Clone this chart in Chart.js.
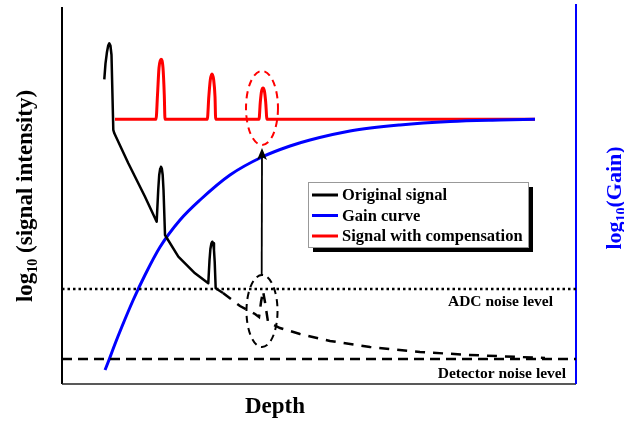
<!DOCTYPE html>
<html><head><meta charset="utf-8">
<script src="https://cdn.jsdelivr.net/npm/chart.js@4/dist/chart.umd.min.js"></script>
<style>html,body{margin:0;padding:0;background:#fff;}canvas{display:block;}</style>
</head><body>
<canvas id="c" width="624" height="424"></canvas>
<script>
// ---- data (depth 0..10, log intensity 0..10, arbitrary units) ----
const originalDepth = [0.823,0.846,0.875,0.899,0.920,0.942,0.963,0.998,1.018,1.290,1.615,1.842,1.872,1.891,1.911,1.926,1.942,1.959,1.975,2.004,2.263,2.588,2.846,2.870,2.887,2.907,2.924,2.942,2.957,2.971,2.990,3.132];
const originalValue = [8.061,8.474,8.783,8.955,9.013,8.955,8.704,6.720,6.632,5.839,4.955,4.294,5.132,5.529,5.701,5.749,5.701,5.529,5.132,3.942,3.368,2.929,2.664,3.280,3.571,3.722,3.765,3.722,3.545,3.228,2.532,2.407];
const hiddenDepth = [3.132,3.463,3.755,3.833,3.872,3.911,3.949,4.008,4.241,4.630,5.214,5.992,6.965,7.938,8.911,9.397];
const hiddenValue = [2.407,2.063,1.852,1.772,2.169,2.460,2.169,1.640,1.481,1.323,1.138,0.979,0.847,0.767,0.714,0.688];
const compDepth = [1.031,1.829,1.858,1.887,1.926,1.965,1.990,2.004,2.827,2.856,2.885,2.918,2.951,2.977,2.990,3.833,3.858,3.883,3.911,3.938,3.963,3.988,9.202];
const compValue = [7.003,7.003,7.646,8.360,8.590,8.360,7.646,7.003,7.003,7.593,8.042,8.201,8.042,7.593,7.003,7.003,7.460,7.751,7.831,7.751,7.460,7.003,7.003];
const gainDepth = [0.837,0.914,1.031,1.167,1.381,1.615,1.907,2.296,2.685,3.268,3.891,4.436,4.825,5.603,6.576,7.549,8.521,9.202];
const gainValue = [0.370,0.635,1.058,1.521,2.209,2.884,3.624,4.339,4.868,5.529,6.005,6.296,6.455,6.693,6.852,6.944,6.984,7.003];
const adcLevel = 2.513;
const detectorLevel = 0.661;
const levelDepth = [0, 10];
const seriesLabels = ['Original signal', 'Gain curve', 'Signal with compensation'];
const levelLabels = ['ADC noise level', 'Detector noise level'];
// annotations: [centerDepth, centerValue, radiusDepth, radiusValue]
const ellipseBlack = [3.891, 1.931, 0.302, 0.952];
const ellipseRed = [3.891, 7.302, 0.311, 0.979];
const arrowFrom = [3.885, 2.885];
const arrowTo = [3.891, 6.243];

const pts = (xs, ys) => xs.map((x, i) => ({x, y: ys[i]}));
const SERIF = '"Liberation Serif", "Times New Roman", serif';

const overlay = {
  id: 'overlay',
  beforeDatasetsDraw(chart) {
    const {ctx, chartArea: a} = chart;
    ctx.save();
    ctx.strokeStyle = '#000'; ctx.lineWidth = 2;
    ctx.beginPath(); ctx.moveTo(a.left, a.top + 1); ctx.lineTo(a.left, a.bottom); ctx.stroke();
    ctx.strokeStyle = '#222'; ctx.lineWidth = 1.6;
    ctx.beginPath(); ctx.moveTo(a.left, a.bottom); ctx.lineTo(a.right, a.bottom); ctx.stroke();
    ctx.strokeStyle = '#0000ff'; ctx.lineWidth = 2;
    ctx.beginPath(); ctx.moveTo(a.right, a.top - 2); ctx.lineTo(a.right, a.bottom); ctx.stroke();
    ctx.restore();
  },
  afterDatasetsDraw(chart) {
    const {ctx, chartArea: a, scales: {x, y}} = chart;
    ctx.save();
    const drawEll = (e, color) => {
      const cx = x.getPixelForValue(e[0]), cy = y.getPixelForValue(e[1]);
      const rx = x.getPixelForValue(e[0] + e[2]) - cx, ry = cy - y.getPixelForValue(e[1] + e[3]);
      ctx.strokeStyle = color; ctx.lineWidth = 2; ctx.setLineDash([7, 5]);
      ctx.beginPath(); ctx.ellipse(cx, cy, rx, ry, 0, 0, Math.PI * 2); ctx.stroke();
    };
    drawEll(ellipseBlack, '#000');
    drawEll(ellipseRed, '#ff0000');
    ctx.setLineDash([]);
    const x0 = x.getPixelForValue(arrowFrom[0]), y0 = y.getPixelForValue(arrowFrom[1]);
    const x1 = x.getPixelForValue(arrowTo[0]), y1 = y.getPixelForValue(arrowTo[1]);
    ctx.strokeStyle = '#000'; ctx.fillStyle = '#000'; ctx.lineWidth = 1.8;
    ctx.beginPath(); ctx.moveTo(x0, y0); ctx.lineTo(x1, y1 + 8); ctx.stroke();
    ctx.beginPath(); ctx.moveTo(x1, y1); ctx.lineTo(x1 - 5, y1 + 12); ctx.lineTo(x1, y1 + 9); ctx.lineTo(x1 + 5, y1 + 12); ctx.closePath(); ctx.fill();
    ctx.fillStyle = '#000'; ctx.font = 'bold 15.5px ' + SERIF; ctx.textAlign = 'right'; ctx.textBaseline = 'alphabetic';
    ctx.fillText(levelLabels[0], a.right - 23, y.getPixelForValue(adcLevel) + 17);
    ctx.fillText(levelLabels[1], a.right - 10, y.getPixelForValue(detectorLevel) + 19);
    const lx = 308, ly = 182, lw = 220, lh = 65;
    ctx.fillStyle = '#000'; ctx.fillRect(lx + 5, ly + 5, lw, lh);
    ctx.fillStyle = '#fff'; ctx.fillRect(lx, ly, lw, lh);
    ctx.strokeStyle = '#999'; ctx.lineWidth = 1; ctx.strokeRect(lx + 0.5, ly + 0.5, lw, lh);
    const items = chart.data.datasets.filter(d => seriesLabels.includes(d.label));
    ctx.font = 'bold 16.5px ' + SERIF; ctx.textAlign = 'left'; ctx.textBaseline = 'middle';
    items.forEach((d, i) => {
      const ry = ly + 13 + i * 20.5;
      ctx.strokeStyle = d.borderColor; ctx.lineWidth = 3;
      ctx.beginPath(); ctx.moveTo(lx + 4, ry); ctx.lineTo(lx + 30, ry); ctx.stroke();
      ctx.fillStyle = '#000'; ctx.fillText(d.label, lx + 34, ry + 1);
    });
    const drawLog = (cx, cy, rest, color, size) => {
      ctx.save(); ctx.translate(cx, cy); ctx.rotate(-Math.PI / 2);
      ctx.fillStyle = color; ctx.textBaseline = 'alphabetic'; ctx.textAlign = 'left';
      const big = 'bold ' + size + 'px ' + SERIF, small = 'bold ' + Math.round(size * 0.62) + 'px ' + SERIF;
      ctx.font = big; const w1 = ctx.measureText('log').width;
      ctx.font = small; const w2 = ctx.measureText('10').width;
      ctx.font = big; const w3 = ctx.measureText(rest).width;
      let sx = -(w1 + w2 + w3) / 2;
      const base = size * 0.35;
      ctx.font = big; ctx.fillText('log', sx, base); sx += w1;
      ctx.font = small; ctx.fillText('10', sx, base + size * 0.22); sx += w2;
      ctx.font = big; ctx.fillText(rest, sx, base);
      ctx.restore();
    };
    drawLog(24, 196, ' (signal intensity)', '#000', 23);
    drawLog(613, 198, '(Gain)', '#0000ff', 22);
    ctx.fillStyle = '#000'; ctx.font = 'bold 23px ' + SERIF; ctx.textAlign = 'center'; ctx.textBaseline = 'middle';
    ctx.fillText('Depth', 275, 407);
    ctx.restore();
  }
};

new Chart(document.getElementById('c'), {
  type: 'scatter',
  data: {
    datasets: [
      {label: 'ADC', data: pts(levelDepth, [adcLevel, adcLevel]), borderColor: '#000', borderWidth: 2.5, borderDash: [2.5, 3], showLine: true, pointRadius: 0},
      {label: 'Detector', data: pts(levelDepth, [detectorLevel, detectorLevel]), borderColor: '#000', borderWidth: 2.5, borderDash: [10, 6], showLine: true, pointRadius: 0},
      {label: 'hidden', data: pts(hiddenDepth, hiddenValue), borderColor: '#000', borderWidth: 2.5, borderDash: [10, 8], showLine: true, pointRadius: 0},
      {label: seriesLabels[0], data: pts(originalDepth, originalValue), borderColor: '#000', borderWidth: 2.5, showLine: true, pointRadius: 0, borderJoinStyle: 'round'},
      {label: seriesLabels[1], data: pts(gainDepth, gainValue), borderColor: '#0000ff', borderWidth: 3, showLine: true, pointRadius: 0, cubicInterpolationMode: 'monotone'},
      {label: seriesLabels[2], data: pts(compDepth, compValue), borderColor: '#ff0000', borderWidth: 3, showLine: true, pointRadius: 0, cubicInterpolationMode: 'monotone', borderJoinStyle: 'round'}
    ]
  },
  options: {
    responsive: false, animation: false,
    layout: {padding: {left: 62, right: 48, top: 6, bottom: 40}},
    scales: {
      x: {type: 'linear', min: 0, max: 10, display: false},
      y: {type: 'linear', min: 0, max: 10, display: false}
    },
    plugins: {legend: {display: false}, tooltip: {enabled: false}}
  },
  plugins: [overlay]
});
</script>
</body></html>
